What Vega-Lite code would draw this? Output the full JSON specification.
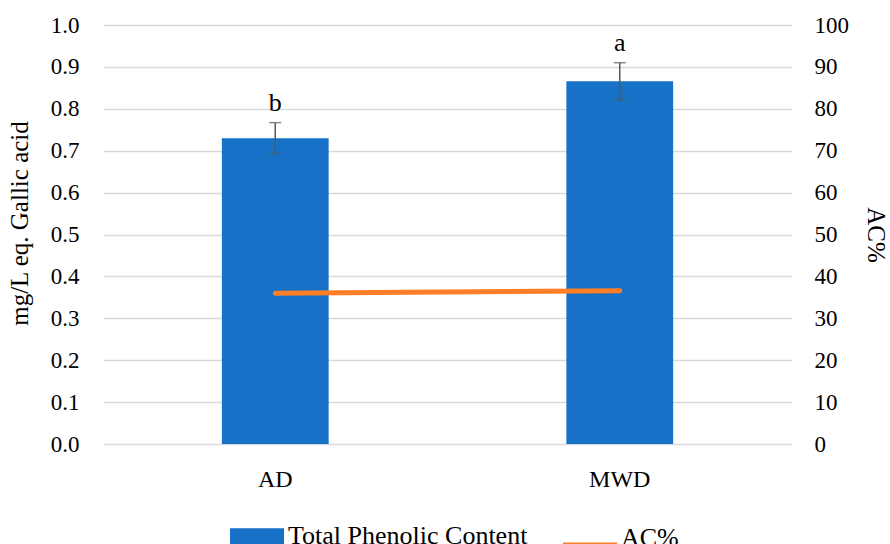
{
  "$schema": "https://vega.github.io/schema/vega-lite/v6.json",
  "autosize": {"type": "none"},
  "padding": {"left": 103, "top": 25, "right": 98, "bottom": 100},
  "width": 689,
  "height": 419,
  "background": "white",
  "config": {
    "font": "Liberation Serif",
    "view": {"stroke": null},
    "axis": {"labelFont": "Liberation Serif", "titleFont": "Liberation Serif", "labelColor": "#000", "titleColor": "#000", "titleFontWeight": "normal"},
    "legend": {"labelFont": "Liberation Serif"}
  },
  "data": {
    "values": [
      {"cat": "AD", "tpc": 0.73, "lo": 0.693, "hi": 0.767, "letter": "b", "ac": 36.0},
      {"cat": "MWD", "tpc": 0.866, "lo": 0.822, "hi": 0.91, "letter": "a", "ac": 36.6}
    ]
  },
  "encoding": {
    "x": {
      "field": "cat", "type": "nominal", "sort": null,
      "scale": {"paddingInner": 0, "paddingOuter": 0},
      "axis": {"title": null, "labelAngle": 0, "domain": false, "ticks": false, "labelFontSize": 24, "labelPadding": 23, "grid": false}
    }
  },
  "layer": [
    {
      "layer": [
        {
          "mark": {"type": "bar", "width": {"band": 0.31}},
          "encoding": {
            "y": {"field": "tpc", "type": "quantitative", "scale": {"domain": [0, 1]},
              "title": "mg/L eq. Gallic acid",
              "axis": {"values": [0, 0.1, 0.2, 0.3, 0.4, 0.5, 0.6, 0.7, 0.8, 0.9, 1.0], "format": ".1f", "domain": false, "ticks": false, "labelFontSize": 23, "labelPadding": 24, "titleFontSize": 25, "titlePadding": 18, "titleY": 198, "grid": true, "gridColor": "#d9d9d9", "gridWidth": 1.5}},
            "color": {"datum": "Total Phenolic Content", "type": "nominal",
              "scale": {"domain": ["Total Phenolic Content", "AC%"], "range": ["#1771C7", "#FF7F27"]},
              "legend": {
                "title": null, "orient": "none", "legendX": 127, "legendY": 484, "direction": "horizontal", "padding": 0,
                "labelFontSize": 26, "labelColor": "#000", "labelLimit": 400, "columnPadding": 35, "labelOffset": 4,
                "symbolSize": 2916, "symbolStrokeWidth": 0, "symbolOpacity": 1,
                "encode": {"symbols": {"update": {
                  "fill": [{"test": "datum.value === 'AC%'", "value": "#FF7F27"}, {"value": "#1771C7"}],
                  "stroke": {"value": "transparent"},
                  "strokeWidth": {"value": 0},
                  "opacity": {"value": 1},
                  "shape": [
                    {"test": "datum.value === 'AC%'", "value": "M-1,0.17H1V0.35H-1Z"},
                    {"value": "M-1,-0.3H1V0.6H-1Z"}
                  ]
                }}}
              }}
          }
        },
        {
          "mark": {"type": "rule", "color": "#595959", "strokeWidth": 1.5},
          "encoding": {
            "y": {"field": "lo", "type": "quantitative", "title": "mg/L eq. Gallic acid"},
            "y2": {"field": "hi"}
          }
        },
        {
          "mark": {"type": "tick", "color": "#595959", "thickness": 1.5, "size": 12, "orient": "horizontal"},
          "encoding": {"y": {"field": "lo", "type": "quantitative", "title": "mg/L eq. Gallic acid"}}
        },
        {
          "mark": {"type": "tick", "color": "#595959", "thickness": 1.5, "size": 12, "orient": "horizontal"},
          "encoding": {"y": {"field": "hi", "type": "quantitative", "title": "mg/L eq. Gallic acid"}}
        },
        {
          "mark": {"type": "text", "fontSize": 26, "dy": -12, "baseline": "alphabetic", "color": "#000"},
          "encoding": {
            "y": {"field": "hi", "type": "quantitative", "title": "mg/L eq. Gallic acid"},
            "text": {"field": "letter"}
          }
        }
      ]
    },
    {
      "mark": {"type": "line", "strokeWidth": 5, "strokeCap": "round"},
      "encoding": {
        "y": {"field": "ac", "type": "quantitative", "scale": {"domain": [0, 100]},
          "title": "AC%",
          "axis": {"orient": "right", "values": [0, 10, 20, 30, 40, 50, 60, 70, 80, 90, 100], "domain": false, "ticks": false, "grid": false, "labelFontSize": 23, "labelPadding": 22, "titleFontSize": 25, "titlePadding": 14}},
        "color": {"datum": "AC%", "type": "nominal"}
      }
    }
  ],
  "resolve": {"scale": {"y": "independent"}, "axis": {"y": "independent"}}
}
